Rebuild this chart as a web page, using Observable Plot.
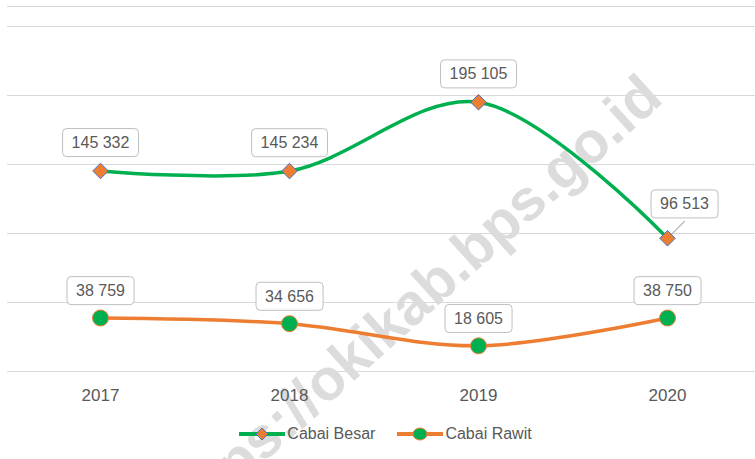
<!DOCTYPE html>
<html><head><meta charset="utf-8">
<script src="https://cdn.jsdelivr.net/npm/d3@7"></script>
<script src="https://cdn.jsdelivr.net/npm/@observablehq/plot@0.6"></script>
<style>
body{margin:0;background:#fff;width:755px;height:459px;overflow:hidden;font-family:"Liberation Sans Narrow","Liberation Sans",sans-serif;color:#595959;}
#legend{display:flex;justify-content:center;align-items:center;height:38px;font-size:16px;padding-left:16px;}
#legend .item{display:flex;align-items:center;margin:0 11px;}
#legend svg{margin-right:2px;}
</style></head><body><div id="chart"></div><div id="legend"></div>
<script>
const years = ["2017", "2018", "2019", "2020"];
const besar = [145332, 145234, 195105, 96513];
const rawit = [38759, 34656, 18605, 38750];
const seriesNames = ["Cabai Besar", "Cabai Rawit"];
const yTicks = [0, 50000, 100000, 150000, 200000, 250000];
const watermark = "https://okikab.bps.go.id";

const GREEN = "#00b050", ORANGE = "#ed7d31", BLUE = "#4472c4", GRID = "#d9d9d9", TXT = "#595959";
const fmt = v => d3.format(",")(v).replace(/,/g, " ");
const dBesar = years.map((y, i) => ({year: y, value: besar[i]}));
const dRawit = years.map((y, i) => ({year: y, value: rawit[i]}));
const FONT = '"Liberation Sans Narrow","Liberation Sans",sans-serif';

const plot = Plot.plot({
  width: 755, height: 415,
  marginTop: 6, marginBottom: 44, marginLeft: 100, marginRight: 88,
  style: {fontFamily: FONT, color: TXT, background: "#fff", overflow: "visible"},
  x: {type: "point", domain: years, padding: 0, label: null},
  y: {domain: [0, 250000], insetTop: 20, axis: null},
  marks: [
    Plot.frame({anchor: "top", stroke: GRID, insetLeft: -93, insetRight: -88}),
    Plot.ruleY(yTicks, {stroke: GRID, strokeWidth: 1, insetLeft: -93, insetRight: -88}),
    Plot.text([watermark], {text: d => d, frameAnchor: "top-right", textAnchor: "end", rotate: -42,
      dx: -30, dy: 64, fontSize: 58, fontWeight: "bold", fill: "#dcdcdc", fontFamily: '"Liberation Sans",sans-serif'}),
    Plot.axisX({tickSize: 0, tickPadding: 17, fontSize: 17, fill: TXT, label: null}),
    Plot.line(dBesar, {x: "year", y: "value", stroke: GREEN, strokeWidth: 3.5, curve: "catmull-rom"}),
    Plot.line(dRawit, {x: "year", y: "value", stroke: ORANGE, strokeWidth: 3.5, curve: "catmull-rom"}),
    Plot.vector(dBesar.slice(3), {x: "year", y: "value", length: 24, rotate: 45, anchor: "start",
      stroke: "#a6a6a6", strokeWidth: 1,
      shape: {draw(ctx, l) { ctx.moveTo(0, 0); ctx.lineTo(0, -l); }}}),
    Plot.dot(dBesar, {x: "year", y: "value", symbol: "diamond2", r: 7, fill: ORANGE, stroke: BLUE, strokeWidth: 1}),
    Plot.dot(dRawit, {x: "year", y: "value", r: 8, fill: GREEN, stroke: ORANGE, strokeWidth: 1}),
    Plot.text(dBesar.slice(0, 3), {x: "year", y: "value", text: d => fmt(d.value), dy: -28, fontSize: 16, fill: TXT}),
    Plot.text(dBesar.slice(3), {x: "year", y: "value", text: d => fmt(d.value), dx: 17, dy: -34, fontSize: 16, fill: TXT}),
    Plot.text(dRawit, {x: "year", y: "value", text: d => fmt(d.value), dy: -27, fontSize: 16, fill: TXT})
  ]
});
document.getElementById("chart").appendChild(plot);

// boxes behind value labels (text marks with font-size 16)
plot.querySelectorAll('g[aria-label="text"][font-size="16"] text').forEach(t => {
  const bb = t.getBBox();
  const r = document.createElementNS("http://www.w3.org/2000/svg", "rect");
  const px = 9, py = 5.5;
  r.setAttribute("x", bb.x - px); r.setAttribute("y", bb.y - py);
  r.setAttribute("width", bb.width + 2 * px); r.setAttribute("height", bb.height + 2 * py);
  r.setAttribute("rx", 4); r.setAttribute("fill", "#fff"); r.setAttribute("stroke", "#bfbfbf");
  if (t.getAttribute("transform")) r.setAttribute("transform", t.getAttribute("transform"));
  t.parentNode.insertBefore(r, t);
});

// legend
const legend = document.getElementById("legend");
const swatches = [
  `<svg width="46" height="14"><line x1="0" x2="46" y1="7" y2="7" stroke="${GREEN}" stroke-width="4"/><path d="M23,1L29,7L23,13L17,7Z" fill="${ORANGE}" stroke="${BLUE}" stroke-width="1"/></svg>`,
  `<svg width="46" height="14"><line x1="0" x2="46" y1="7" y2="7" stroke="${ORANGE}" stroke-width="4"/><ellipse cx="23" cy="7" rx="7" ry="6" fill="${GREEN}" stroke="${ORANGE}" stroke-width="1"/></svg>`
];
seriesNames.forEach((n, i) => {
  const it = document.createElement("div");
  it.className = "item";
  it.innerHTML = swatches[i] + `<span>${n}</span>`;
  legend.appendChild(it);
});
</script></body></html>
